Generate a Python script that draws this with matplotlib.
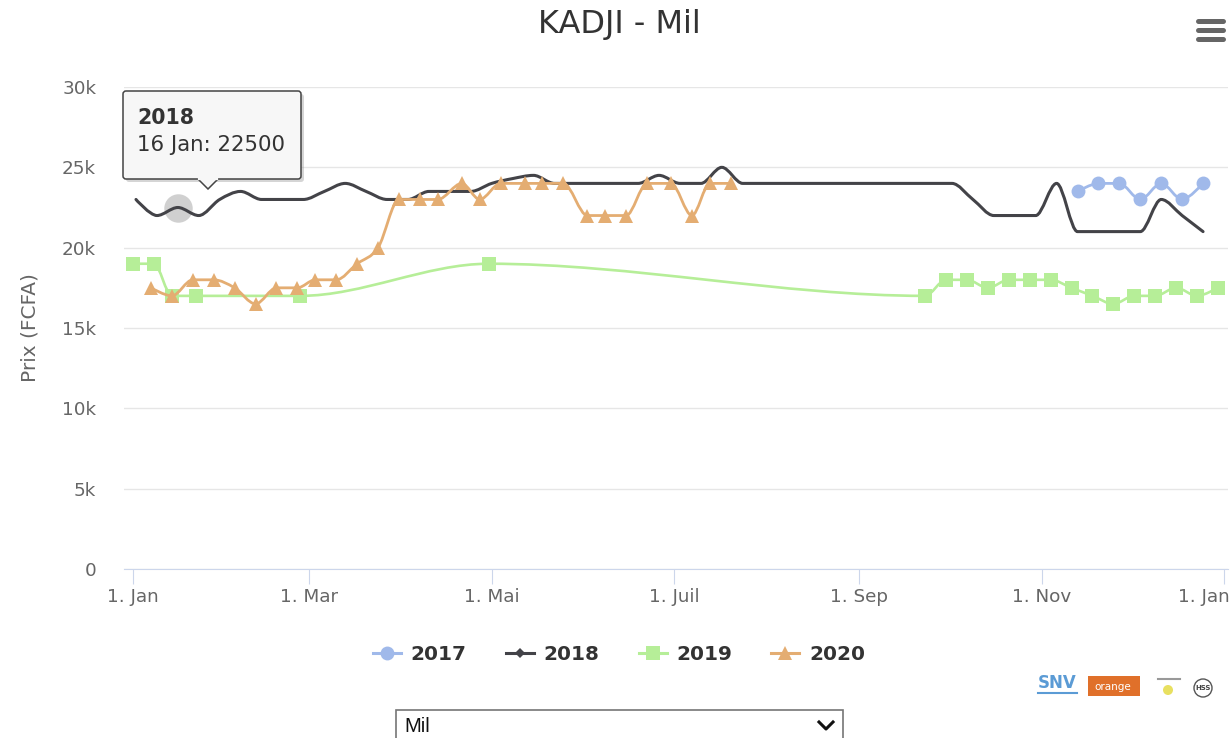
import matplotlib
matplotlib.use("Agg")
import matplotlib.pyplot as plt
from matplotlib.path import Path
from matplotlib.patches import PathPatch, FancyBboxPatch, Rectangle, Circle, Polygon
from matplotlib.lines import Line2D
from matplotlib.transforms import ScaledTranslation

# day of year (0 = 1 Jan)
days_2017 = [316, 323, 330, 337, 344, 351, 358]
vals_2017 = [23500, 24000, 24000, 23000, 24000, 23000, 24000]

days_2018 = [1, 8, 15, 22, 29, 36, 43, 50, 57, 64, 71, 78, 85, 92, 99, 106, 113, 120, 127, 134,
             141, 148, 155, 162, 169, 176, 183, 190, 197, 204, 211, 218, 225, 232, 239, 246,
             253, 260, 267, 274, 281, 288, 295, 302, 309, 316, 323, 330, 337, 344, 351, 358]
vals_2018 = [23000, 22000, 22500, 22000, 23000, 23500, 23000, 23000, 23000, 23500, 24000, 23500,
             23000, 23000, 23500, 23500, 23500, 24000, 24300, 24500, 24000, 24000, 24000, 24000,
             24000, 24500, 24000, 24000, 25000, 24000, 24000, 24000, 24000, 24000, 24000, 24000,
             24000, 24000, 24000, 24000, 23000, 22000, 22000, 22000, 24000, 21000, 21000, 21000,
             21000, 23000, 22000, 21000]

days_2019 = [0, 7, 13, 21, 56, 119, 265, 272, 279, 286, 293, 300, 307, 314, 321, 328, 335, 342, 349, 356, 363]
vals_2019 = [19000, 19000, 17000, 17000, 17000, 19000, 17000, 18000, 18000, 17500, 18000, 18000,
             18000, 17500, 17000, 16500, 17000, 17000, 17500, 17000, 17500]

days_2020 = [6, 13, 20, 27, 34, 41, 48, 55, 61, 68, 75, 82, 89, 96, 102, 110, 116, 123, 131, 137,
             144, 152, 158, 165, 172, 180, 187, 193, 200]
vals_2020 = [17500, 17000, 18000, 18000, 17500, 16500, 17500, 17500, 18000, 18000, 19000, 20000,
             23000, 23000, 23000, 24000, 23000, 24000, 24000, 24000, 24000, 22000, 22000, 22000,
             24000, 24000, 22000, 24000, 24000]

x_ticks = [0, 59, 120, 181, 243, 304, 365]
x_labels = ["1. Jan", "1. Mar", "1. Mai", "1. Juil", "1. Sep", "1. Nov", "1. Jan"]
y_ticks = [0, 5000, 10000, 15000, 20000, 25000, 30000]
y_labels = ["0", "5k", "10k", "15k", "20k", "25k", "30k"]

BLUE = "#a0b9ea"
DARK = "#434348"
GREEN = "#b6ee98"
ORANGE = "#e4ad72"
W, H = 1231, 738
ARM = 0.33  # length of the bezier arms, share of the gap to the next point


def spline_path(xs, ys):
    # bezier smoothing like a highcharts spline, flat at local extremes
    verts = [(xs[0], ys[0])]
    codes = [Path.MOVETO]
    n = len(xs)
    left = [None] * n
    right = [None] * n
    for i in range(1, n - 1):
        lcx = xs[i] + (xs[i - 1] - xs[i]) * ARM
        lcy = ys[i] + (ys[i - 1] - ys[i]) * ARM
        rcx = xs[i] + (xs[i + 1] - xs[i]) * ARM
        rcy = ys[i] + (ys[i + 1] - ys[i]) * ARM
        corr = (rcy - lcy) * (rcx - xs[i]) / (rcx - lcx) + ys[i] - rcy
        lcy += corr
        rcy += corr
        if lcy > ys[i - 1] and lcy > ys[i]:
            lcy = max(ys[i - 1], ys[i])
            rcy = 2 * ys[i] - lcy
        elif lcy < ys[i - 1] and lcy < ys[i]:
            lcy = min(ys[i - 1], ys[i])
            rcy = 2 * ys[i] - lcy
        if rcy > ys[i + 1] and rcy > ys[i]:
            rcy = max(ys[i + 1], ys[i])
            lcy = 2 * ys[i] - rcy
        elif rcy < ys[i + 1] and rcy < ys[i]:
            rcy = min(ys[i + 1], ys[i])
            lcy = 2 * ys[i] - rcy
        left[i] = (lcx, lcy)
        right[i] = (rcx, rcy)
    for i in range(1, n):
        c1 = right[i - 1] if right[i - 1] else (xs[i - 1], ys[i - 1])
        c2 = left[i] if left[i] else (xs[i], ys[i])
        verts += [c1, c2, (xs[i], ys[i])]
        codes += [Path.CURVE4] * 3
    return Path(verts, codes)


fig = plt.figure(figsize=(W / 100, H / 100), dpi=100)
L, R, T, B = 124, 1228, 87, 569
ax = fig.add_axes([L / W, 1 - B / H, (R - L) / W, (B - T) / H])
ax.set_xlim((L - 133) / 2.989, (R - 133) / 2.989)
ax.set_ylim(0, 30000)

ax.grid(axis="y", color="#e6e6e6", lw=1)
ax.set_axisbelow(True)
for s in ["top", "right", "left"]:
    ax.spines[s].set_visible(False)
ax.spines["bottom"].set_color("#ccd6eb")

ax.set_xticks(x_ticks)
ax.set_xticklabels(x_labels)
ax.set_yticks(y_ticks)
ax.set_yticklabels(y_labels)
ax.tick_params(axis="x", colors="#666666", length=10.5, width=0.8, color="#ccd6eb", labelsize=13.2, pad=3)
ax.tick_params(axis="y", colors="#666666", length=0, labelsize=13.2, pad=20)
last = ax.get_xticklabels()[-1]
last.set_ha("right")
last.set_transform(last.get_transform() + ScaledTranslation(6 / 100, 0, fig.dpi_scale_trans))
ax.set_ylabel("Prix (FCFA)", color="#666666", fontsize=14.5, labelpad=16)

series = [
    (days_2017, vals_2017, BLUE, "o", 10, 2.0, "2017"),
    (days_2018, vals_2018, DARK, None, 0, 2.2, "2018"),
    (days_2019, vals_2019, GREEN, "s", 10, 1.9, "2019"),
    (days_2020, vals_2020, ORANGE, "^", 10.5, 2.0, "2020"),
]
handles = []
for xs, ys, col, mk, ms, lw, name in series:
    ax.add_patch(PathPatch(spline_path(xs, ys), fc="none", ec=col, lw=lw, capstyle="round", zorder=3))
    if mk:
        ax.plot(xs, ys, ls="none", marker=mk, ms=ms, color=col, mew=0, zorder=3)
    handles.append(Line2D([], [], color=col, lw=2.2, marker=mk if mk else "D", ms=ms if mk else 5.5, mew=0, label=name))

# hover halo on the tooltip point
ax.scatter([15], [22500], s=420, color="#aaaaaa", alpha=0.55, lw=0, zorder=2)

leg = fig.legend(handles=handles, loc="center", bbox_to_anchor=(619 / W, 1 - 654 / H), ncol=4, frameon=False,
                 prop={"size": 14.4, "weight": "bold"}, handlelength=1.4, handletextpad=0.5, columnspacing=1.95)
for t in leg.get_texts():
    t.set_color("#333333")

# overlay in pixel coordinates for everything that is not the plot
ov = fig.add_axes([0, 0, 1, 1], zorder=5)
ov.set_xlim(0, W)
ov.set_ylim(H, 0)
ov.axis("off")
ov.patch.set_alpha(0)

ov.text(619.5, 24, "KADJI - Mil", ha="center", va="center", fontsize=23, color="#333333")

for y in [21, 30, 39]:
    ov.plot([1198, 1223], [y, y], color="#666666", lw=3.6, solid_capstyle="round")

# tooltip
ov.add_patch(FancyBboxPatch((126, 94), 178, 88, boxstyle="round,pad=0,rounding_size=3", fc="#888888", ec="none", alpha=0.35))
ov.add_patch(FancyBboxPatch((123, 91), 178, 88, boxstyle="round,pad=0,rounding_size=3", fc="#f7f7f7", ec="#444444", lw=1.1))
ov.add_patch(Polygon([(198, 179), (208, 189), (218, 179)], closed=False, fc="#f7f7f7", ec="#444444", lw=1.1))
ov.plot([199, 217], [179, 179], color="#f7f7f7", lw=1.6)
ov.text(137, 118, "2018", fontsize=14.8, fontweight="bold", color="#333333", va="center")
ov.text(137, 145, "16 Jan: 22500", fontsize=15.3, color="#333333", va="center")

# logos
ov.text(1057, 683, "SNV", ha="center", va="center", fontsize=12, fontweight="bold", color="#5b9bd5")
ov.plot([1038, 1077], [693, 693], color="#5b9bd5", lw=1.5)
ov.add_patch(Rectangle((1088, 676), 52, 20, fc="#e0702a", ec="none"))
ov.text(1113, 687, "orange", ha="center", va="center", fontsize=7.5, color="white")
ov.plot([1158, 1180], [679, 679], color="#999999", lw=1.5)
ov.add_patch(Circle((1168, 690), 5, fc="#e8e060", ec="none"))
ov.add_patch(Circle((1203, 688), 9, fc="none", ec="#555555", lw=1))
ov.text(1203, 688, "HSS", ha="center", va="center", fontsize=5, fontweight="bold", color="#444444")

# select box cut by the bottom edge
ov.add_patch(Rectangle((396, 710), 447, 40, fc="white", ec="#767676", lw=1.2))
ov.text(404, 726, "Mil", va="center", fontsize=14.5, color="#111111", family="Liberation Sans")
ov.plot([819, 826, 833], [722, 729, 722], color="#111111", lw=2.2)

fig.savefig("out.png", dpi=100)
